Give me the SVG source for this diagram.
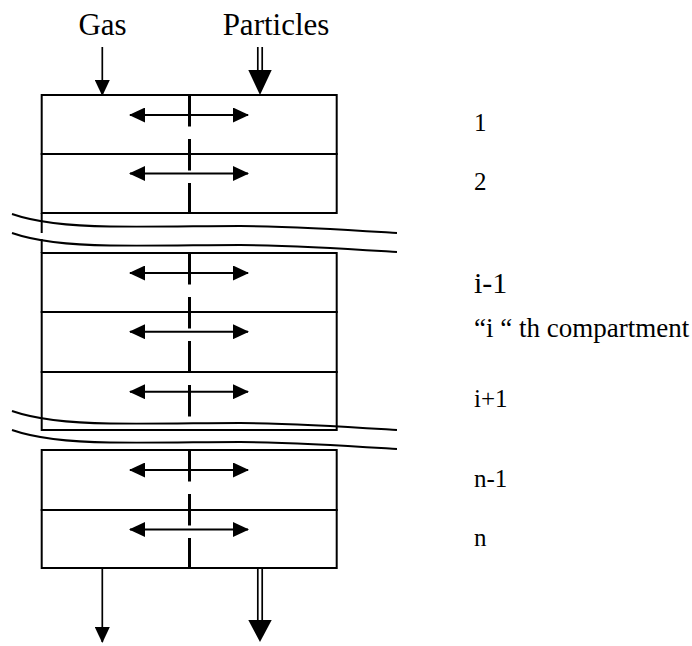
<svg xmlns="http://www.w3.org/2000/svg" width="692" height="646" viewBox="0 0 692 646">
  <style>
    .box { fill: none; stroke: #000; stroke-width: 2; }
    .sep { fill: none; stroke: #000; stroke-width: 3; stroke-dasharray: 31.5 12.5; }
    .dbl { fill: none; stroke: #000; stroke-width: 1.9; marker-start: url(#ah); marker-end: url(#ah); }
    .ln { fill: none; stroke: #000; stroke-width: 1.7; }
    .brk { fill: none; stroke: #000; stroke-width: 1.9; }
    .head { fill: #000; stroke: none; }
    text { font-family: "Liberation Serif", "Times New Roman", serif; fill: #000; }
    .top { font-size: 31px; text-anchor: middle; }
    .lbl { font-size: 25px; }
  </style>
  <defs>
    <marker id="ah" viewBox="0 0 16 15" refX="15" refY="7.5" markerWidth="16" markerHeight="15" markerUnits="userSpaceOnUse" orient="auto-start-reverse">
      <path d="M0,0 L16,7.5 L0,15 Z" fill="#000"/>
    </marker>
    <marker id="ahs" viewBox="0 0 16 15" refX="15" refY="7.5" markerWidth="16" markerHeight="15" markerUnits="userSpaceOnUse" orient="auto">
      <path d="M0,0 L16,7.5 L0,15 Z" fill="#000"/>
    </marker>
    <path id="brk" d="M12,214 C35,222 70,226 110,226.5 C160,227 200,226 240,226 C300,226.5 350,230 397,233 M12,233 C35,241 70,245 110,245.5 C160,246 200,245 240,245 C300,245.5 350,249 397,252"/>
  </defs>

  <g id="labels-top">
    <text class="top" x="102.5" y="35">Gas</text>
    <text class="top" x="276" y="35">Particles</text>
  </g>

  <g id="block-top">
    <g id="c1">
      <rect class="box" x="41.7" y="95" width="295" height="59"/>
      <line class="dbl" x1="130" y1="115" x2="248" y2="115"/>
    </g>
    <g id="c2">
      <rect class="box" x="41.7" y="154" width="295" height="59"/>
      <line class="dbl" x1="130" y1="173.5" x2="248" y2="173.5"/>
    </g>
    <line class="sep" x1="189.5" y1="95" x2="189.5" y2="213"/>
  </g>

  <g id="block-mid">
    <g id="c-im1">
      <rect class="box" x="41.7" y="253" width="295" height="59"/>
      <line class="dbl" x1="130" y1="273" x2="248" y2="273"/>
    </g>
    <g id="c-i">
      <rect class="box" x="41.7" y="312" width="295" height="60"/>
      <line class="dbl" x1="130" y1="331.7" x2="248" y2="331.7"/>
    </g>
    <g id="c-ip1">
      <rect class="box" x="41.7" y="372" width="295" height="58"/>
      <line class="dbl" x1="130" y1="391.7" x2="248" y2="391.7"/>
    </g>
    <line class="sep" x1="189.5" y1="253" x2="189.5" y2="430"/>
  </g>

  <g id="block-bot">
    <g id="c-nm1">
      <rect class="box" x="41.7" y="450" width="295" height="60"/>
      <line class="dbl" x1="130" y1="470" x2="248" y2="470"/>
    </g>
    <g id="c-n">
      <rect class="box" x="41.7" y="510" width="295" height="58"/>
      <line class="dbl" x1="130" y1="529.5" x2="248" y2="529.5"/>
    </g>
    <line class="sep" x1="189.5" y1="450" x2="189.5" y2="568"/>
  </g>

  <g id="breaks">
    <line class="box" x1="41.7" y1="213" x2="41.7" y2="233"/>
    <line class="box" x1="41.7" y1="239" x2="41.7" y2="253"/>
    <use href="#brk" class="brk"/>
    <use href="#brk" class="brk" transform="translate(0,197)"/>
  </g>

  <g id="connectors">
    <line class="ln" x1="102.3" y1="47" x2="102.3" y2="95" marker-end="url(#ahs)"/>
    <line class="ln" x1="257.8" y1="47" x2="257.8" y2="72"/>
    <line class="ln" x1="262.2" y1="47" x2="262.2" y2="72"/>
    <path class="head" d="M248.3,70 L271.7,70 L260,95 Z"/>
    <line class="ln" x1="102.3" y1="568" x2="102.3" y2="642" marker-end="url(#ahs)"/>
    <line class="ln" x1="257.8" y1="568" x2="257.8" y2="622"/>
    <line class="ln" x1="262.2" y1="568" x2="262.2" y2="622"/>
    <path class="head" d="M248.3,620 L271.7,620 L260,642 Z"/>
  </g>

  <g id="labels-right">
    <text class="lbl" x="474" y="131">1</text>
    <text class="lbl" x="474" y="190">2</text>
    <text x="474" y="293" style="font-size:30px">i-1</text>
    <text x="474" y="337" style="font-size:27px">“i “ th compartment</text>
    <text class="lbl" x="474" y="407">i+1</text>
    <text class="lbl" x="474" y="487">n-1</text>
    <text class="lbl" x="474" y="546">n</text>
  </g>
</svg>
